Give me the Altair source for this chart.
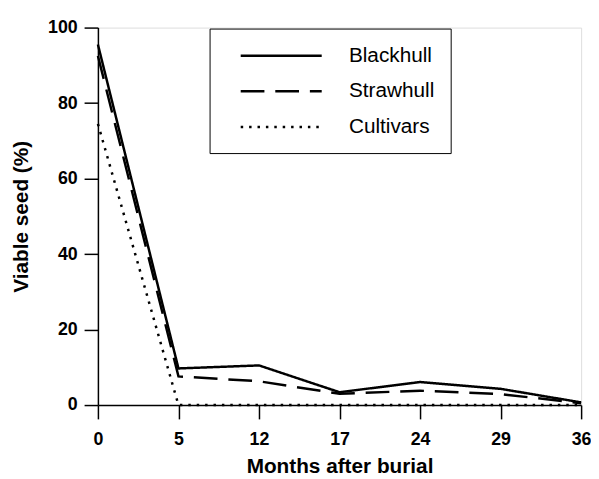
import altair as alt
import pandas as pd

months = [0, 5, 12, 17, 24, 29, 36]
blackhull = [95.5, 9.7, 10.5, 3.4, 6.1, 4.3, 0.7]
strawhull = [92.5, 7.6, 6.3, 3.0, 3.8, 2.9, 0.5]
cultivars = [74.5, 0, 0, 0, 0, 0, 0]
series = ["Blackhull", "Strawhull", "Cultivars"]

rows = []
for name, vals in zip(series, [blackhull, strawhull, cultivars]):
    for m, v in zip(months, vals):
        rows.append({"month": m, "viable": v, "series": name})
df = pd.DataFrame(rows)

FONT = "Liberation Sans"

chart = alt.Chart(df).mark_line(strokeWidth=2.5, color="black", strokeCap="butt").encode(
    x=alt.X("month:O", sort=months,
            scale=alt.Scale(type="point", padding=0),
            axis=alt.Axis(title="Months after burial", labelAngle=0, tickSize=14,
                          labelPadding=12, titlePadding=7, domainWidth=1.5, tickWidth=1.5,
                          domainColor="black", tickColor="black", labelColor="black",
                          titleColor="black", labelFont=FONT, titleFont=FONT,
                          labelFontSize=18, titleFontSize=21, labelFontWeight="bold",
                          titleFontWeight="bold", grid=False)),
    y=alt.Y("viable:Q", scale=alt.Scale(domain=[0, 100], nice=False),
            axis=alt.Axis(title="Viable seed (%)", values=[0, 20, 40, 60, 80, 100],
                          tickSize=14, labelPadding=7, titlePadding=16, domainWidth=1.5,
                          tickWidth=1.5, domainColor="black", tickColor="black",
                          labelColor="black", titleColor="black", labelFont=FONT,
                          titleFont=FONT, labelFontSize=18, titleFontSize=21,
                          labelFontWeight="bold", titleFontWeight="bold", grid=False)),
    strokeDash=alt.StrokeDash("series:N",
                              scale=alt.Scale(domain=series, range=[[1, 0], [24, 11], [2.5, 6]]),
                              legend=alt.Legend(title=None, orient="none", legendX=113, legendY=1,
                                                direction="vertical", symbolType="M0,0H8",
                                                symbolSize=420, symbolStrokeWidth=2.5,
                                                symbolStrokeColor="black",
                                                symbolFillColor="transparent", symbolOffset=4,
                                                labelFont=FONT, labelFontSize=21,
                                                labelColor="black", labelOffset=98,
                                                padding=16, rowPadding=14,
                                                strokeColor="black", fillColor="white")),
    detail="series:N",
).properties(
    width=489, height=382,
    autosize=alt.AutoSizeParams(type="none"),
    padding={"left": 91, "top": 17, "right": 10, "bottom": 71},
).configure_view(stroke=None).configure(background="white")

chart.save("out.html", embed_options={"renderer": "svg", "actions": False})
